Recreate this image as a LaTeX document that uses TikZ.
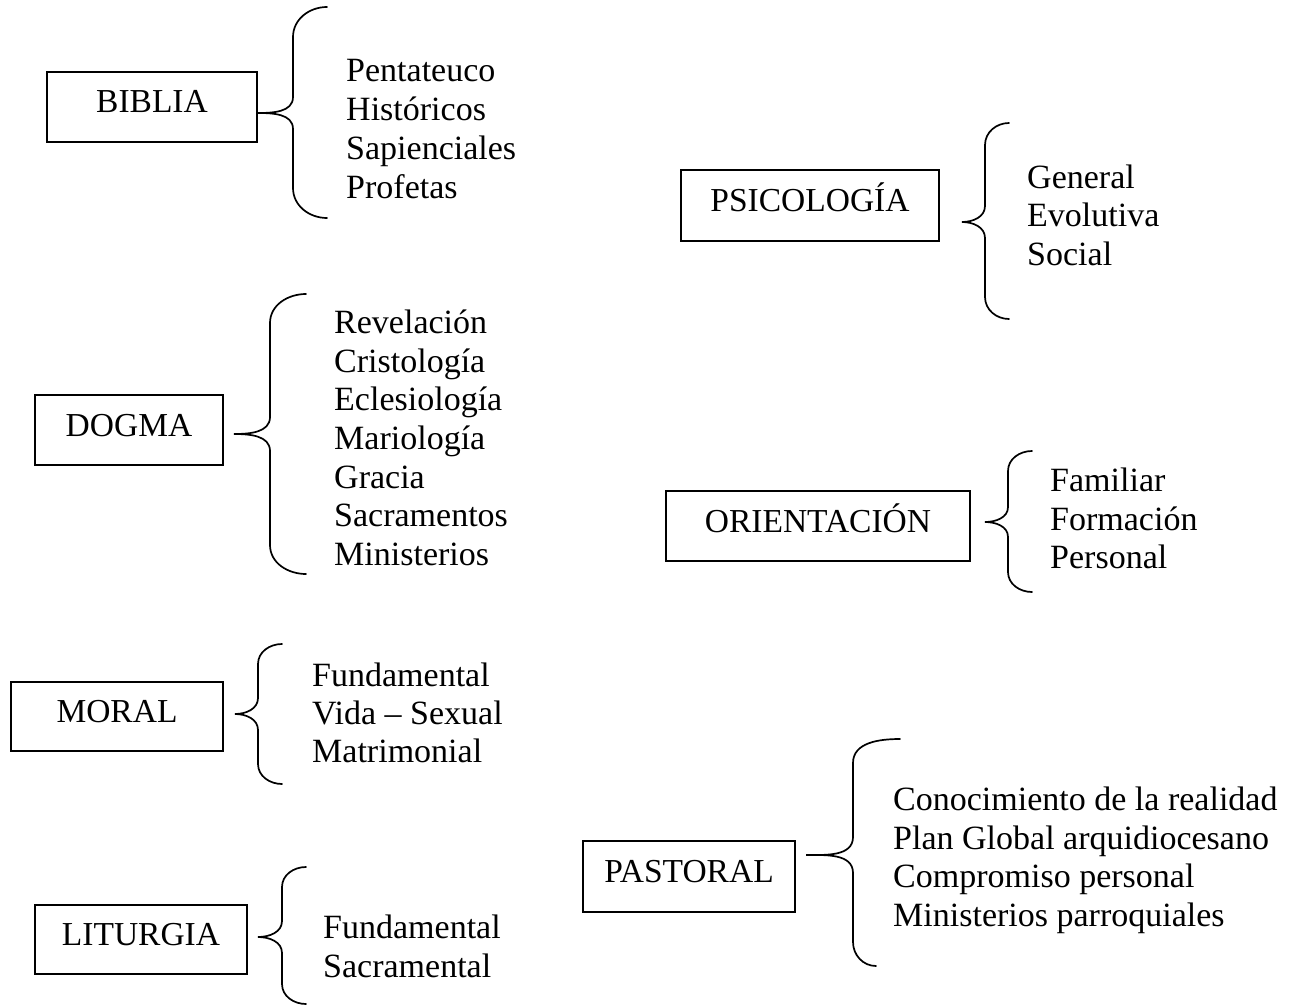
\documentclass[tikz,border=0pt]{standalone}
\usepackage{fontspec}
\setmainfont{Liberation Serif}
\tikzset{
  box/.style={draw, line width=1.7pt, inner sep=0pt, text height=21pt, text depth=9pt, font=\fontsize{33.5}{38.7}\selectfont},
  item/.style={inner sep=0pt, anchor=base west, font=\fontsize{34}{38.7}\selectfont},
  bracepath/.style={line width=1.7pt, line cap=round}
}
% #1 xe top, #2 y top, #3 x vertical, #4 xe bottom, #5 y bottom, #6 x tip, #7 y tip, #8 end radius, #9 middle radius
\newcommand\drawbrace[9]{%
  \draw[bracepath] (#1,#2) to[out=180,in=90] (#3,#2+#8) -- (#3,#7-#9)
    to[out=-90,in=0] (#6,#7) to[out=0,in=90] (#3,#7+#9) -- (#3,#5-#8)
    to[out=-90,in=180] (#4,#5);}
\begin{document}
\begin{tikzpicture}[x=1pt,y=-1pt]
\useasboundingbox (0,0) rectangle (1303,1006);
% BIBLIA
\node[box, minimum width=210pt, minimum height=70pt] (biblia) at (152,107) {BIBLIA};
\drawbrace{327}{7}{293}{327}{218}{257}{113}{30}{16}
\node[item] (b1) at (346,82) {Pentateuco};
\node[item] (b2) at (346,121) {Históricos};
\node[item] (b3) at (346,159) {Sapienciales};
\node[item] (b4) at (346,198) {Profetas};
% DOGMA
\node[box, minimum width=188pt, minimum height=70pt] (dogma) at (129,430) {DOGMA};
\drawbrace{306}{294}{270}{306}{574}{234}{434}{29}{17}
\node[item] (d1) at (334,333) {Revelación};
\node[item] (d2) at (334,372) {Cristología};
\node[item] (d3) at (334,410) {Eclesiología};
\node[item] (d4) at (334,449) {Mariología};
\node[item] (d5) at (334,488) {Gracia};
\node[item] (d6) at (334,526) {Sacramentos};
\node[item] (d7) at (334,565) {Ministerios};
% MORAL
\node[box, minimum width=212pt, minimum height=69pt] (moral) at (117,716.5) {MORAL};
\drawbrace{282}{644}{258}{282}{784}{235}{714}{20}{16}
\node[item] (m1) at (312,686) {Fundamental};
\node[item] (m2) at (312,724) {Vida – Sexual};
\node[item] (m3) at (312,762) {Matrimonial};
% LITURGIA
\node[box, minimum width=212pt, minimum height=69pt] (liturgia) at (141,939.5) {LITURGIA};
\drawbrace{306}{867}{282}{306}{1004}{258}{937}{20}{16}
\node[item] (l1) at (323,938) {Fundamental};
\node[item] (l2) at (323,977) {Sacramental};
% PSICOLOGIA
\node[box, minimum width=258pt, minimum height=71pt] (psico) at (810,205.5) {PSICOLOGÍA};
\drawbrace{1009}{123}{985}{1009}{319}{962}{222}{22}{16}
\node[item] (p1) at (1027,188) {General};
\node[item] (p2) at (1027,226.5) {Evolutiva};
\node[item] (p3) at (1027,265) {Social};
% ORIENTACION
\node[box, minimum width=304pt, minimum height=70pt] (orient) at (818,526) {ORIENTACIÓN};
\drawbrace{1032}{451}{1008}{1032}{592}{985}{522}{20}{15}
\node[item] (o1) at (1050,491) {Familiar};
\node[item] (o2) at (1050,530) {Formación};
\node[item] (o3) at (1050,568) {Personal};
% PASTORAL
\node[box, minimum width=212pt, minimum height=71pt] (pastoral) at (689,876.5) {PASTORAL};
\drawbrace{900}{739}{853}{876}{966}{806}{855}{24}{18}
\node[item] (s1) at (893,810) {Conocimiento de la realidad};
\node[item] (s2) at (893,849) {Plan Global arquidiocesano};
\node[item] (s3) at (893,887) {Compromiso personal};
\node[item] (s4) at (893,926) {Ministerios parroquiales};
\end{tikzpicture}
\end{document}
